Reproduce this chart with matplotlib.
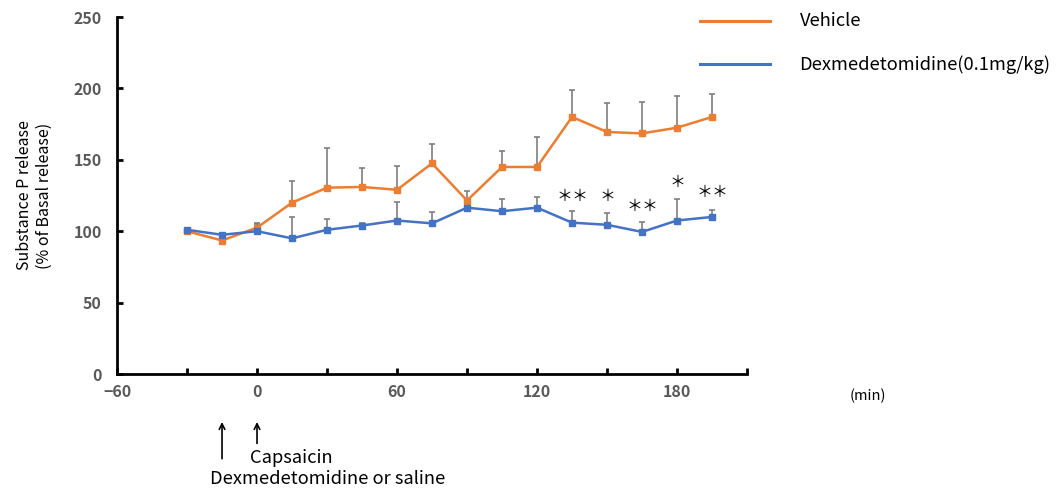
import numpy as np
import matplotlib.pyplot as plt

plt.rcParams['font.family'] = ['Noto Sans CJK JP', 'DejaVu Sans']

# time points (min) relative to capsaicin
minutes = [-30, -15, 0, 15, 30, 45, 60, 75, 90, 105, 120, 135, 150, 165, 180, 195]

vehicle = [100, 93.5, 102.5, 120, 130.5, 131, 129, 147.5, 121.5, 145, 145, 180, 169.5, 168.5, 172.5, 180]
vehicle_sem = [0.5, 1, 2.5, 15, 27.5, 13.5, 17, 13.5, 7, 11, 21, 19, 20, 22, 22, 16]

dex = [101, 97.5, 100, 95, 101, 104, 107.5, 105.5, 116.5, 114, 116.5, 106, 104.5, 99.5, 107.5, 110]
dex_sem = [0.5, 1.5, 5.5, 15, 7.5, 2, 13, 8, 2, 8.5, 7.5, 8.5, 8.5, 7, 15, 5]

# significance marks vs vehicle
sig_x = [135, 150, 165, 180, 195]
sig_txt = ['＊＊', '＊', '＊＊', '＊', '＊＊']
sig_y = [124, 124.5, 117.5, 134.5, 127]

orange = '#ED7D31'
blue = '#4472C4'
errc = '#7F7F7F'

fig = plt.figure(figsize=(10.59, 4.92), dpi=100)
ax = fig.add_axes([0.1105, 0.2398, 0.5949, 0.7256])

for y, e, c in [(vehicle, vehicle_sem, orange), (dex, dex_sem, blue)]:
    ax.errorbar(minutes, y, yerr=[np.zeros(len(e)), e], fmt='none',
                ecolor=errc, elinewidth=1.2, capsize=2.5, capthick=1.2, zorder=2)
    ax.plot(minutes, y, color=c, lw=1.8, marker='s', ms=5, zorder=3)

for x, t, y in zip(sig_x, sig_txt, sig_y):
    ax.text(x, y, t, ha='center', va='center', fontsize=11.5, color='black')

ax.set_xlim(-60, 210)
ax.set_ylim(0, 250)
ax.set_xticks(np.arange(-60, 211, 30))
ax.set_xticklabels(['−60' if v == -60 else (str(v) if v % 60 == 0 else '')
                    for v in np.arange(-60, 211, 30)])
ax.set_yticks(np.arange(0, 251, 50))
ax.tick_params(direction='in', length=4, width=2, colors='black',
               labelcolor='#595959', labelsize=11.5)
for lab in ax.get_xticklabels() + ax.get_yticklabels():
    lab.set_fontweight('bold')
ax.tick_params(axis='x', pad=7)
ax.tick_params(axis='y', pad=11)
for s in ['top', 'right']:
    ax.spines[s].set_visible(False)
for s in ['left', 'bottom']:
    ax.spines[s].set_linewidth(2)

ax.set_ylabel('Substance P release\n(% of Basal release)', fontsize=11.5,
              labelpad=15, linespacing=1.2)

# legend drawn as lines with labels at upper right
fig.lines.append(plt.Line2D([0.661, 0.727], [0.957, 0.957], color=orange, lw=2.2,
                            transform=fig.transFigure))
fig.lines.append(plt.Line2D([0.661, 0.727], [0.869, 0.869], color=blue, lw=2.2,
                            transform=fig.transFigure))
fig.text(0.755, 0.957, 'Vehicle', fontsize=13.2, va='center')
fig.text(0.755, 0.869, 'Dexmedetomidine(0.1mg/kg)', fontsize=13.2, va='center')

fig.text(0.802, 0.195, '(min)', fontsize=10.5, va='center')

# treatment arrows below the time axis
for x0, ytail in [(-15, 0.062), (0, 0.093)]:
    xf = fig.transFigure.inverted().transform(ax.transData.transform((x0, 0)))[0]
    fig.add_artist(plt.Annotation('', xy=(xf, 0.148), xytext=(xf, ytail),
                                  xycoords='figure fraction',
                                  arrowprops=dict(arrowstyle='->', color='black',
                                                  lw=1.2)))
fig.text(0.236, 0.069, 'Capsaicin', fontsize=13.2, va='center')
fig.text(0.198, 0.026, 'Dexmedetomidine or saline', fontsize=13.2, va='center')

fig.savefig('out.png', dpi=100)
